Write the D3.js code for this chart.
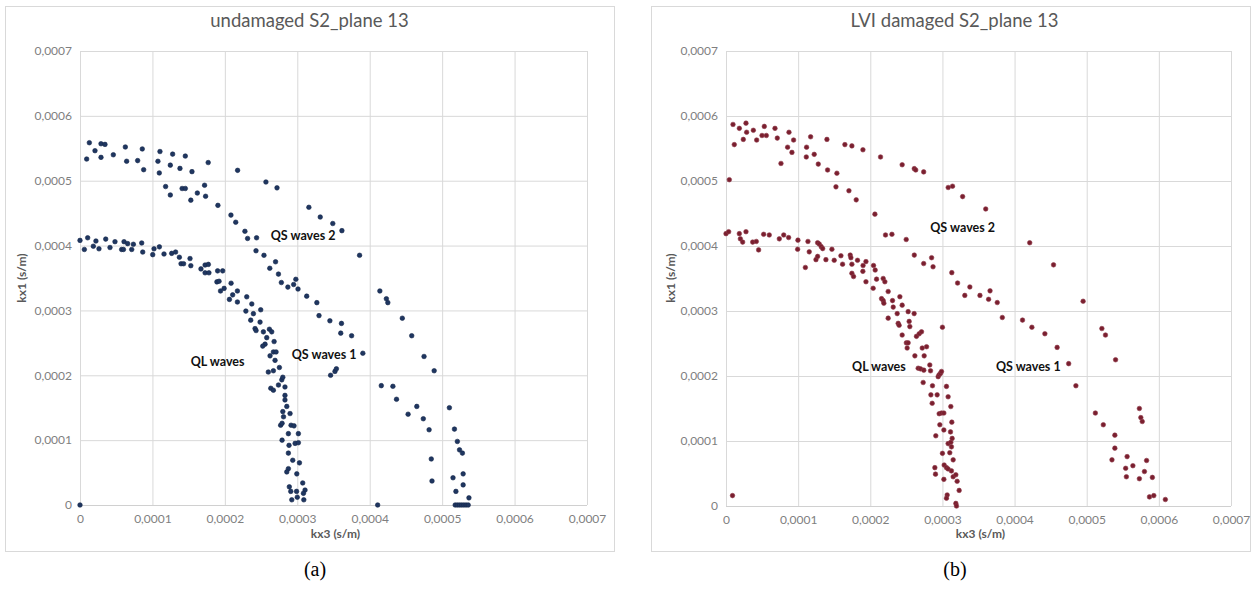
<!DOCTYPE html>
<html><head><meta charset="utf-8">
<script src="https://cdn.jsdelivr.net/npm/d3@7"></script>
<style>body{margin:0;background:#fff}svg{display:block}</style>
</head><body>
<svg id="c" width="1255" height="606"></svg>
<script>
// values in units of 1e-4 s/m : [kx3, kx1]
const UNIT = 1e-4;
const tickValues = [0, 0.0001, 0.0002, 0.0003, 0.0004, 0.0005, 0.0006, 0.0007];
const tickLabels = ["0", "0,0001", "0,0002", "0,0003", "0,0004", "0,0005", "0,0006", "0,0007"];

const undamagedQL = [
[0,4.08],[0.06,3.94],[0.106,4.12],[0.184,3.99],[0.22,4.07],[0.262,3.95],[0.355,4.10],[0.414,3.97],[0.483,4.06],[0.575,3.94],[0.6,3.94],[0.608,4.06],[0.658,4.03],[0.714,3.94],[0.737,4.02],[0.852,4.04],[0.866,3.90],[1.004,3.86],[1.022,3.95],[1.096,3.98],[1.16,3.87],[1.266,3.88],[1.32,3.90],[1.372,3.82],[1.395,3.72],[1.43,3.72],[1.519,3.80],[1.53,3.69],[1.67,3.64],[1.727,3.70],[1.772,3.71],[1.727,3.58],[1.78,3.58],[1.90,3.61],[1.97,3.61],[1.89,3.44],[1.92,3.45],[1.99,3.34],[1.94,3.30],
[2.086,3.42],[2.108,3.24],[2.063,3.17],[2.173,3.30],[2.173,3.13],[2.302,3.21],[2.372,3.10],[2.29,2.99],[2.394,2.95],[2.495,3.01],[2.357,2.85],[2.486,2.82],[2.417,2.72],[2.431,2.69],[2.532,2.67],[2.615,2.71],[2.647,2.67],[2.578,2.58],[2.555,2.48],[2.523,2.45],[2.68,2.52],[2.67,2.36],[2.624,2.30],[2.707,2.36],[2.693,2.23],[2.753,2.12],[2.60,2.05],[2.67,2.07],[2.786,1.93],[2.80,1.97],[2.74,1.85],[2.83,1.82],[2.634,1.80],[2.67,1.77],[2.83,1.69],[2.83,1.62],[2.855,1.52],[2.80,1.44],[2.90,1.41],[2.81,1.36],[2.77,1.23],[2.79,1.26],[2.914,1.23],[2.955,1.22],[2.877,1.10],[3.015,1.10],[2.79,1.00],[2.97,0.95],[3.015,0.96],[2.886,0.92],[2.877,0.80],[2.937,0.69],[3.03,0.65],[2.877,0.56],[2.855,0.51],[2.993,0.48],[2.89,0.28],[2.91,0.21],[2.99,0.21],[3.075,0.34],[3.107,0.23],[3.085,0.18],[2.924,0.08],[3.0,0.12],[3.09,0.08],
[0,0]
];
const undamagedQS2 = [
[0.129,5.586],[0.092,5.334],[0.207,5.463],[0.29,5.57],[0.345,5.56],[0.29,5.36],[0.46,5.40],[0.626,5.52],[0.644,5.30],[0.796,5.31],[0.86,5.49],[0.879,5.17],[1.104,5.45],[1.076,5.30],[1.095,5.12],[1.279,5.41],[1.247,5.24],[1.38,5.19],[1.454,5.38],[1.546,5.14],[1.182,4.91],[1.247,4.78],[1.41,4.88],[1.454,4.88],[1.62,4.81],[1.53,4.70],[1.72,4.93],[1.734,4.76],[1.77,5.28],[1.904,4.62],[2.176,5.16],[2.084,4.47],[2.15,4.36],[2.277,4.22],[2.314,4.11],[2.438,4.12],[2.567,4.98],[2.72,4.89],[2.43,3.92],[2.54,3.85],[2.62,3.65],[2.70,3.75],[2.74,3.56],[3.16,4.59],[3.317,4.44],[3.49,4.34],[3.616,4.23],[3.86,3.85],
[2.78,3.43],[2.87,3.36],[2.95,3.40],[2.98,3.48],[3.01,3.33],[3.13,3.22],[3.27,3.12],[3.30,2.92],[3.45,2.84],[3.61,2.80],[3.60,2.65],[3.75,2.61],[3.905,2.34],[3.46,2.0],[3.52,2.06],[3.54,2.10]
];
const undamagedQS1 = [
[4.14,3.30],[4.23,3.18],[4.25,3.12],[4.45,2.88],[4.58,2.61],[4.75,2.29],[4.89,2.07],[4.16,1.84],[4.32,1.83],[4.37,1.63],[4.53,1.40],[4.65,1.52],[4.74,1.33],[4.82,1.16],[4.85,0.71],[4.86,0.37],[5.10,1.50],[5.17,1.17],[5.21,0.98],[5.24,0.85],[5.28,0.80],[5.29,0.48],[5.15,0.42],[5.29,0.31],[5.19,0.21],[5.37,0.11],[4.11,0],[5.18,0],[5.21,0],[5.24,0],[5.27,0],[5.30,0],[5.33,0],[5.36,0]
];

const damagedQL = [
[0,4.19],[0.037,4.22],[0.185,4.19],[0.277,4.22],[0.199,4.11],[0.231,4.06],[0.37,4.06],[0.42,4.07],[0.452,3.94],[0.522,4.18],[0.60,4.17],[0.739,4.11],[0.80,4.17],[0.868,4.13],[0.997,4.09],[0.993,3.95],[1.136,4.07],[1.154,3.91],[1.10,3.67],[1.27,4.05],[1.293,4.03],[1.32,3.99],[1.34,3.96],[1.247,3.79],[1.27,3.84],[1.385,3.79],[1.468,3.95],[1.50,3.78],[1.593,3.85],[1.616,3.72],[1.722,3.86],[1.731,3.82],[1.745,3.72],[1.745,3.58],[1.768,3.53],[1.823,3.78],[1.897,3.61],[1.94,3.76],[1.90,3.70],[1.94,3.45],[2.045,3.70],[2.068,3.63],
[2.087,3.49],[2.179,3.50],[2.202,3.45],[2.04,3.35],[2.248,3.30],[2.156,3.19],[2.179,3.16],[2.188,3.12],[2.308,3.16],[2.41,3.22],[2.318,3.06],[2.442,3.09],[2.248,2.89],[2.373,2.96],[2.387,2.81],[2.40,2.78],[2.525,2.99],[2.539,2.84],[2.548,2.76],[2.608,2.96],[2.442,2.63],[2.50,2.51],[2.525,2.51],[2.64,2.61],[2.678,2.65],[2.71,2.68],[2.511,2.43],[2.72,2.43],[2.78,2.45],[2.618,2.31],[2.747,2.31],[2.664,2.12],[2.696,2.11],[2.742,2.09],[2.825,2.17],[2.835,2.08],[3.0,2.75],[2.941,1.99],[2.955,2.02],[2.973,2.04],[2.987,2.07],[2.733,1.90],[2.862,1.85],[3.056,1.84],[2.84,1.71],[2.927,1.71],[3.079,1.68],[2.858,1.58],[3.116,1.53],[2.955,1.42],[2.987,1.43],[3.02,1.43],[3.13,1.29],[2.964,1.25],[3.02,1.17],[3.112,1.14],[2.908,1.08],[3.079,0.96],[3.116,0.98],[3.135,1.04],[3.125,0.91],[3.0,0.81],[3.102,0.82],[3.149,0.71],[3.024,0.63],[3.056,0.59],[3.079,0.57],[2.895,0.59],[2.904,0.49],[3.02,0.41],[3.125,0.54],[3.149,0.45],[3.186,0.48],[3.204,0.38],[3.232,0.24],[3.066,0.17],[3.056,0.12],[3.186,0.04],[3.195,0.0],
[0.09,0.16]
];
const damagedQS2 = [
[0.097,5.87],[0.115,5.56],[0.185,5.81],[0.24,5.64],[0.277,5.89],[0.286,5.75],[0.379,5.78],[0.425,5.63],[0.499,5.70],[0.531,5.84],[0.559,5.70],[0.679,5.81],[0.711,5.66],[0.762,5.27],[0.854,5.52],[0.873,5.75],[0.914,5.44],[0.937,5.63],[0.046,5.02],[1.113,5.37],[1.117,5.52],[1.173,5.68],[1.223,5.41],[1.279,5.26],[1.399,5.64],[1.408,5.17],[1.537,5.12],[1.524,4.91],[1.648,5.56],[1.704,4.85],[1.745,5.54],[1.805,4.71],[1.898,5.48],[2.064,4.49],[2.142,5.37],[2.211,4.17],[2.30,4.18],[2.442,5.25],[2.498,4.10],[2.61,5.19],[2.63,5.17],[2.74,5.14],[2.61,3.86],[2.74,3.73],[2.85,3.82],[2.87,3.68],[3.08,4.90],[3.14,4.92],[3.28,4.76],[3.13,3.59],[3.60,4.57],[4.21,4.05],[4.54,3.71],[4.95,3.15],
[3.21,3.43],[3.31,3.24],[3.38,3.37],[3.52,3.24],[3.64,3.18],[3.66,3.31],[3.76,3.13],[3.83,2.90]
];
const damagedQS1 = [
[4.11,2.86],[4.24,2.75],[4.42,2.65],[4.59,2.44],[4.75,2.19],[4.85,1.85],[5.21,2.73],[5.26,2.63],[5.40,2.25],[5.12,1.43],[5.23,1.25],[5.39,1.09],[5.39,0.89],[5.35,0.71],[5.56,0.76],[5.64,0.62],[5.54,0.58],[5.55,0.45],[5.73,1.50],[5.75,1.36],[5.77,1.30],[5.83,0.70],[5.80,0.53],[5.73,0.42],[5.91,0.44],[5.87,0.14],[5.93,0.16],[6.09,0.10]
];

const undamagedLabels = [
  {text: "QS waves 2", x: 3.08, y: 4.13},
  {text: "QS waves 1", x: 3.37, y: 2.30},
  {text: "QL waves",   x: 1.90, y: 2.19}
];
const damagedLabels = [
  {text: "QS waves 2", x: 3.28, y: 4.26},
  {text: "QL waves",   x: 2.12, y: 2.12},
  {text: "QS waves 1", x: 4.19, y: 2.12}
];

const panels = [
  {title: "undamaged S2_plane 13", caption: "(a)", color: "#1f3660", stroke: "#14264a",
   frame: [5, 6, 609, 545], px: [80, 587], py: [505, 51], ylabX: 22, xlabY: 538,
   series: [undamagedQL, undamagedQS2, undamagedQS1], labels: undamagedLabels, capX: 315},
  {title: "LVI damaged S2_plane 13", caption: "(b)", color: "#7a1f2f", stroke: "#8e3a4a",
   frame: [651, 6, 599, 545], px: [726, 1231], py: [506, 51], ylabX: 671, xlabY: 538,
   series: [damagedQL, damagedQS2, damagedQS1], labels: damagedLabels, capX: 955}
];

const svg = d3.select("#c");
const FONT = "Lato, 'Open Sans', sans-serif";

panels.forEach(p => {
  const g = svg.append("g");
  g.append("rect").attr("x", p.frame[0] + 0.5).attr("y", p.frame[1] + 0.5)
    .attr("width", p.frame[2]).attr("height", p.frame[3])
    .attr("fill", "#fff").attr("stroke", "#d9d9d9");

  const x = d3.scaleLinear().domain([0, 0.0007]).range(p.px);
  const y = d3.scaleLinear().domain([0, 0.0007]).range(p.py);

  const xAxis = d3.axisBottom(x).tickValues(tickValues)
    .tickFormat((d, i) => tickLabels[i]).tickSize(-(p.py[0] - p.py[1])).tickPadding(9);
  const yAxis = d3.axisLeft(y).tickValues(tickValues)
    .tickFormat((d, i) => tickLabels[i]).tickSize(-(p.px[1] - p.px[0])).tickPadding(8);

  const gx = g.append("g").attr("transform", `translate(0,${p.py[0]})`).call(xAxis);
  const gy = g.append("g").attr("transform", `translate(${p.px[0]},0)`).call(yAxis);
  [gx, gy].forEach(a => {
    a.select(".domain").remove();
    a.selectAll(".tick line").attr("stroke", "#d9d9d9").attr("stroke-width", 1);
    a.selectAll(".tick text").attr("fill", "#7f7f7f").style("font-family", FONT).style("font-size", "12px");
  });
  g.append("line").attr("x1", p.px[0]).attr("x2", p.px[1]).attr("y1", p.py[0] + 0.5).attr("y2", p.py[0] + 0.5)
    .attr("stroke", "#d0d0d0");

  g.append("text").attr("x", (p.px[0] + p.px[1]) / 2 - 24).attr("y", 27)
    .attr("text-anchor", "middle").attr("fill", "#595959")
    .style("font-family", FONT).style("font-size", "18.5px").text(p.title);

  g.append("text").attr("x", (p.px[0] + p.px[1]) / 2 + 2).attr("y", p.xlabY)
    .attr("text-anchor", "middle").attr("fill", "#595959").attr("font-weight", "bold")
    .style("font-family", FONT).style("font-size", "12px").text("kx3 (s/m)");
  g.append("text").attr("transform", `translate(${p.ylabX + 4},${278}) rotate(-90)`)
    .attr("text-anchor", "middle").attr("fill", "#595959").attr("font-weight", "bold")
    .style("font-family", FONT).style("font-size", "12px").text("kx1 (s/m)");

  const pts = p.series.flat();
  g.append("g").selectAll("circle").data(pts).join("circle")
    .attr("cx", d => x(d[0] * UNIT)).attr("cy", d => y(d[1] * UNIT))
    .attr("r", 2.3).attr("fill", p.color).attr("stroke", p.stroke).attr("stroke-width", 0.6);

  g.append("g").selectAll("text").data(p.labels).join("text")
    .attr("x", d => x(d.x * UNIT)).attr("y", d => y(d.y * UNIT))
    .attr("text-anchor", "middle").attr("dominant-baseline", "middle")
    .attr("font-weight", "bold").attr("fill", "#111")
    .style("font-family", FONT).style("font-size", "12.5px").text(d => d.text);

  svg.append("text").attr("x", p.capX).attr("y", 576).attr("text-anchor", "middle")
    .style("font-family", "'Liberation Serif', 'Times New Roman', serif").style("font-size", "20px")
    .attr("fill", "#000").text(p.caption);
});
</script>
</body></html>
